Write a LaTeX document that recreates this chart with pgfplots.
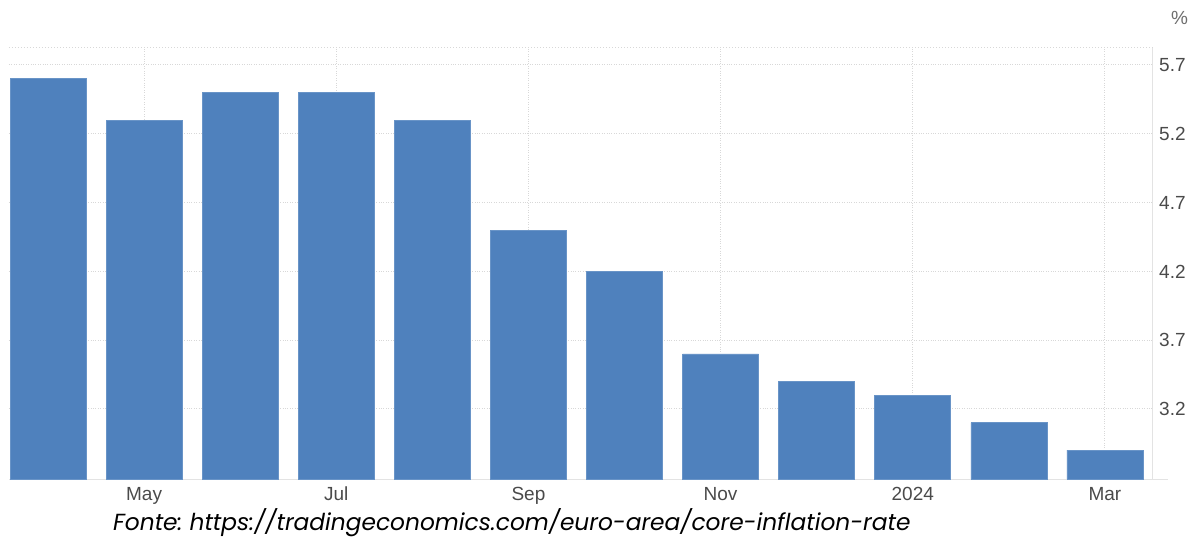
\documentclass[border=0pt]{standalone}
\usepackage{pgfplots}
\pgfplotsset{compat=1.18}
\usepackage{fontspec}
\setmainfont{Liberation Sans}
\newfontfamily\footfont{Poppins}
\definecolor{barblue}{HTML}{4F81BD}
\definecolor{gridc}{HTML}{D8D8D8}
\definecolor{axc}{HTML}{E3E3E3}
\definecolor{labc}{HTML}{4A4A4A}
\begin{document}
\frenchspacing
\begin{tikzpicture}[x=1pt,y=1pt]
\path[use as bounding box] (0,0) rectangle (1192,536);
\begin{axis}[
  at={(9pt,57pt)}, anchor=south west,
  scale only axis, width=1144pt, height=431pt,
  xmin=-0.406, xmax=11.5,
  ymin=2.691, ymax=5.8235,
  axis x line*=bottom, axis y line*=right,
  axis line style={draw=axc, line width=1pt, -},
  x axis line style={shorten >=-15pt},
  xtick={1,3,5,7,9,11},
  xticklabels={May,Jul,Sep,Nov,2024,Mar},
  ytick={3.2,3.7,4.2,4.7,5.2,5.7},
  yticklabel pos=right,
  major tick length=0pt,
  xmajorgrids, ymajorgrids,
  major grid style={draw=gridc, dotted, line width=1pt},
  /pgf/number format/assume math mode=true,
  /pgf/number format/.cd, fixed, fixed zerofill, precision=1, /pgfplots/.cd,
  tick label style={font=\fontsize{19}{21}\selectfont, text=labc},
  xticklabel style={anchor=north, inner sep=0pt, yshift=-8pt},
  yticklabel style={anchor=west, inner sep=0pt, xshift=6pt},
  clip=false,
]
\addplot[ybar, bar width=76pt, fill=barblue, draw=barblue!85!white, line width=0.6pt, bar shift=0pt]
  coordinates {(0,5.6) (1,5.3) (2,5.5) (3,5.5) (4,5.3) (5,4.5) (6,4.2) (7,3.6) (8,3.4) (9,3.3) (10,3.1) (11,2.9)};
\draw[gridc, dotted, line width=1pt] (rel axis cs:0,1) -- (rel axis cs:1,1);
\end{axis}
\node[anchor=base west, inner sep=0pt, text=labc!80] at (1171,511) {\fontsize{19}{21}\selectfont\%};
\node[anchor=base west, inner sep=0pt] at (113,6) {\footfont\itshape\fontsize{23.3}{26}\selectfont Fonte: https://tradingeconomics.com/euro-area/core-inflation-rate};
\end{tikzpicture}
\end{document}
